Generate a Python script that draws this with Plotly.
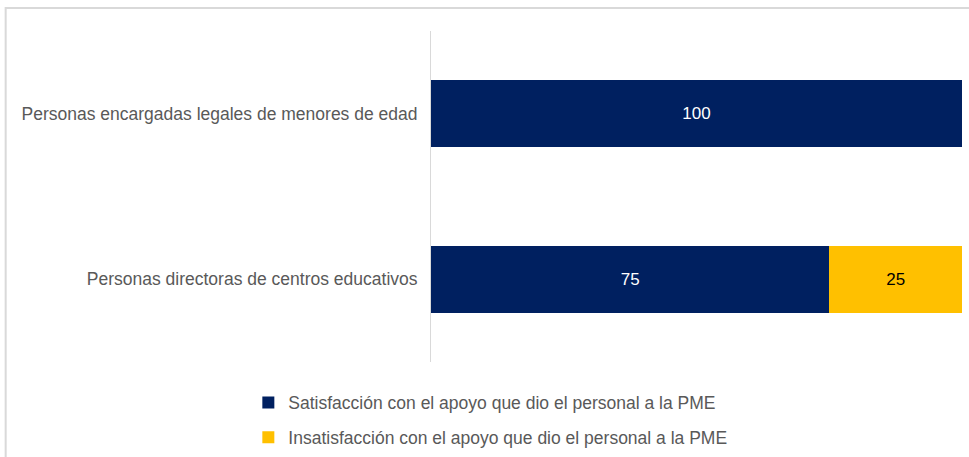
import plotly.graph_objects as go

categories = [
    "Personas encargadas legales de menores de edad",
    "Personas directoras de centros educativos",
]
satisfaccion = [100, 75]
insatisfaccion = [0, 25]
series_names = [
    "Satisfacción con el apoyo que dio el personal a la PME",
    "Insatisfacción con el apoyo que dio el personal a la PME",
]

FONT = "Liberation Sans, Arial"

fig = go.Figure()
for name, values, color, txtcolor in [
    (series_names[0], satisfaccion, "#002060", "white"),
    (series_names[1], insatisfaccion, "#FFC000", "black"),
]:
    fig.add_trace(
        go.Bar(
            y=categories,
            x=values,
            orientation="h",
            name=name,
            legendgroup=name,
            marker=dict(color=color, line=dict(width=0)),
            text=[str(v) if v else "" for v in values],
            textposition="inside",
            insidetextanchor="middle",
            textfont=dict(color=txtcolor, size=17, family=FONT),
            hoverinfo="skip",
        )
    )

fig.update_layout(
    width=969,
    height=457,
    barmode="stack",
    bargap=0.595,
    paper_bgcolor="white",
    plot_bgcolor="white",
    margin=dict(l=431, r=7, t=31, b=95, autoexpand=False),
    font=dict(family=FONT, size=17.5, color="#595959"),
    xaxis=dict(range=[0, 100], visible=False),
    yaxis=dict(
        autorange="reversed",
        showline=True,
        linecolor="#d9d9d9",
        linewidth=1,
        showgrid=False,
        ticks="",
        ticklabelstandoff=9,
    ),
    legend=dict(
        orientation="v",
        x=-0.344,
        xanchor="left",
        y=-0.068,
        yanchor="top",
        tracegroupgap=9,
        font=dict(size=17.5, color="#595959"),
        itemwidth=30,
    ),
    shapes=[
        dict(
            type="rect",
            xref="paper",
            yref="paper",
            x0=-0.801,
            x1=1.05,
            y0=-0.4,
            y1=1.0695,
            line=dict(color="#d9d9d9", width=2),
            fillcolor="rgba(0,0,0,0)",
            layer="below",
        )
    ],
)

fig.write_html(
    "out.html",
    config={"displayModeBar": False},
    post_script="document.body.style.margin='0px';",
)
